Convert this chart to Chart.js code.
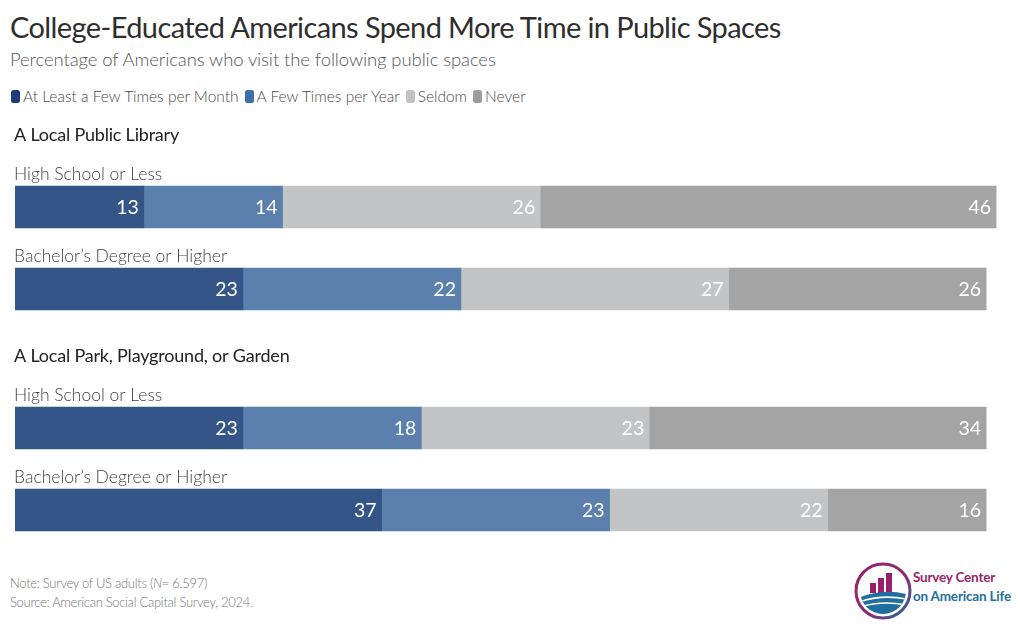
<!DOCTYPE html>
<html>
<head>
<meta charset="utf-8">
<script src="https://cdn.jsdelivr.net/npm/chart.js@4.4.1/dist/chart.umd.min.js"></script>
<style>
  html, body { margin: 0; padding: 0; background: #fff; }
  body { width: 1020px; height: 643px; position: relative; overflow: hidden; font-family: Lato, "Open Sans", sans-serif; }
  .abs { position: absolute; white-space: nowrap; }
  #title { left: 10px; top: 9px; font-size: 29px; color: #2e2e2e; letter-spacing: -0.6px; }
  #subtitle { left: 10px; top: 48px; font-size: 18.5px; color: #555; font-weight: 300; letter-spacing: -0.1px; }
  #legend { left: 11px; top: 87px; font-size: 15.5px; color: #4a4a4a; font-weight: 300; display: flex; align-items: center; }
  #legend .item { display: flex; align-items: center; margin-right: 6px; }
  #legend .sw { width: 9px; height: 13px; border-radius: 2.5px; margin-right: 3px; }
  #note { left: 10px; top: 574px; font-size: 13px; color: #777; line-height: 19px; font-weight: 300; letter-spacing: -0.3px; }
  canvas { position: absolute; left: 0; }
  #logoText { left: 913px; top: 568px; font-size: 13.5px; font-weight: 700; line-height: 19px; font-family: Lato, sans-serif; letter-spacing: -0.2px; }
</style>
</head>
<body>
<div id="title" class="abs">College-Educated Americans Spend More Time in Public Spaces</div>
<div id="subtitle" class="abs">Percentage of Americans who visit the following public spaces</div>
<div id="legend" class="abs"></div>
<canvas id="c1" width="1020" height="215" style="top:120px"></canvas>
<canvas id="c2" width="1020" height="215" style="top:341px"></canvas>
<div id="note" class="abs">Note: Survey of US adults (<i>N</i>= 6.597)<br>Source: American Social Capital Survey, 2024.</div>
<svg class="abs" style="left:852px;top:561px" width="62" height="60" viewBox="0 0 62 60">
  <defs>
    <linearGradient id="ring" x1="0" y1="0" x2="1" y2="1">
      <stop offset="0" stop-color="#9b1f6a"/>
      <stop offset="0.6" stop-color="#8a2b73"/>
      <stop offset="1" stop-color="#1f6e9e"/>
    </linearGradient>
    <clipPath id="cc"><circle cx="31" cy="30" r="23"/></clipPath>
  </defs>
  <circle cx="31" cy="30" r="27" fill="none" stroke="url(#ring)" stroke-width="3"/>
  <g clip-path="url(#cc)">
    <rect x="18" y="22" width="6" height="10" fill="#9b1f6a"/>
    <rect x="26" y="17" width="6" height="15" fill="#9b1f6a"/>
    <rect x="34" y="12" width="6" height="20" fill="#9b1f6a"/>
    <path d="M4 38 Q31 26 58 34 L58 60 L4 60 Z" fill="#1f6e9e"/>
    <path d="M4 42 Q31 32 58 39" stroke="#fff" stroke-width="1.6" fill="none"/>
    <path d="M4 47 Q31 38 58 45" stroke="#fff" stroke-width="1.6" fill="none"/>
  </g>
</svg>
<div id="logoText" class="abs"><span style="color:#9b1f6a">Survey Center</span><br><span style="color:#1f6e9e">on American Life</span></div>
<script>
// ---- data ----
const categories = ["High School or Less", "Bachelor\u2019s Degree or Higher"];
const groups = ["A Local Public Library", "A Local Park, Playground, or Garden"];
const seriesNames = ["At Least a Few Times per Month", "A Few Times per Year", "Seldom", "Never"];
const libraryMonth = [13, 23];
const libraryYear = [14, 22];
const librarySeldom = [26, 27];
const libraryNever = [46, 26];
const parkMonth = [23, 37];
const parkYear = [18, 23];
const parkSeldom = [23, 22];
const parkNever = [34, 16];

const barColors = ["#345588", "#5b80ae", "#c3c4c6", "#a4a4a4"];
const legendColors = ["#1f3b78", "#3d6ea8", "#c2c2c2", "#9d9d9d"];

// legend
const lg = document.getElementById('legend');
seriesNames.forEach((n, i) => {
  const it = document.createElement('div'); it.className = 'item';
  const sw = document.createElement('div'); sw.className = 'sw'; sw.style.background = legendColors[i];
  const tx = document.createElement('span'); tx.textContent = n;
  it.appendChild(sw); it.appendChild(tx); lg.appendChild(it);
});

const labelPlugin = {
  id: 'labels',
  afterDatasetsDraw(chart, args, opts) {
    const ctx = chart.ctx;
    ctx.save();
    // value labels
    chart.data.datasets.forEach((ds, di) => {
      const meta = chart.getDatasetMeta(di);
      meta.data.forEach((bar, i) => {
        const p = bar.getProps(['x', 'y'], true);
        ctx.fillStyle = '#fff';
        ctx.font = '400 19.5px Lato';
        ctx.textAlign = 'right';
        ctx.textBaseline = 'middle';
        ctx.fillText(String(ds.data[i]), p.x - 5, p.y + 1);
      });
    });
    // row labels & group header
    const meta0 = chart.getDatasetMeta(0);
    const left = chart.chartArea.left;
    meta0.data.forEach((bar, i) => {
      const p = bar.getProps(['y', 'height'], true);
      const top = p.y - p.height / 2;
      ctx.fillStyle = '#444';
      ctx.font = '300 17.5px Lato';
      ctx.textAlign = 'left';
      ctx.textBaseline = 'middle';
      ctx.fillText(chart.data.labels[i], left - 1, top - 12);
      if (i === 0) {
        ctx.fillStyle = '#222';
        ctx.font = '400 18px Lato';
        ctx.letterSpacing = '-0.2px';
        ctx.fillText(opts.header, left - 1, top - 51);
        ctx.letterSpacing = '0px';
      }
    });
    ctx.restore();
  }
};

function makeChart(id, header, month, year, seldom, never) {
  const series = [month, year, seldom, never];
  return new Chart(document.getElementById(id), {
    type: 'bar',
    data: {
      labels: categories,
      datasets: series.map((d, i) => ({
        label: seriesNames[i],
        data: d,
        backgroundColor: barColors[i],
        borderWidth: 0,
        barThickness: 42
      }))
    },
    options: {
      indexAxis: 'y',
      responsive: false,
      animation: false,
      layout: { padding: { left: 15, right: 14, top: 46, bottom: 5 } },
      scales: {
        x: { stacked: true, min: 0, max: 100, display: false },
        y: { stacked: true, display: false }
      },
      plugins: { legend: { display: false }, tooltip: { enabled: false }, labels: { header } }
    },
    plugins: [labelPlugin]
  });
}

makeChart('c1', groups[0], libraryMonth, libraryYear, librarySeldom, libraryNever);
makeChart('c2', groups[1], parkMonth, parkYear, parkSeldom, parkNever);
</script>
</body>
</html>
